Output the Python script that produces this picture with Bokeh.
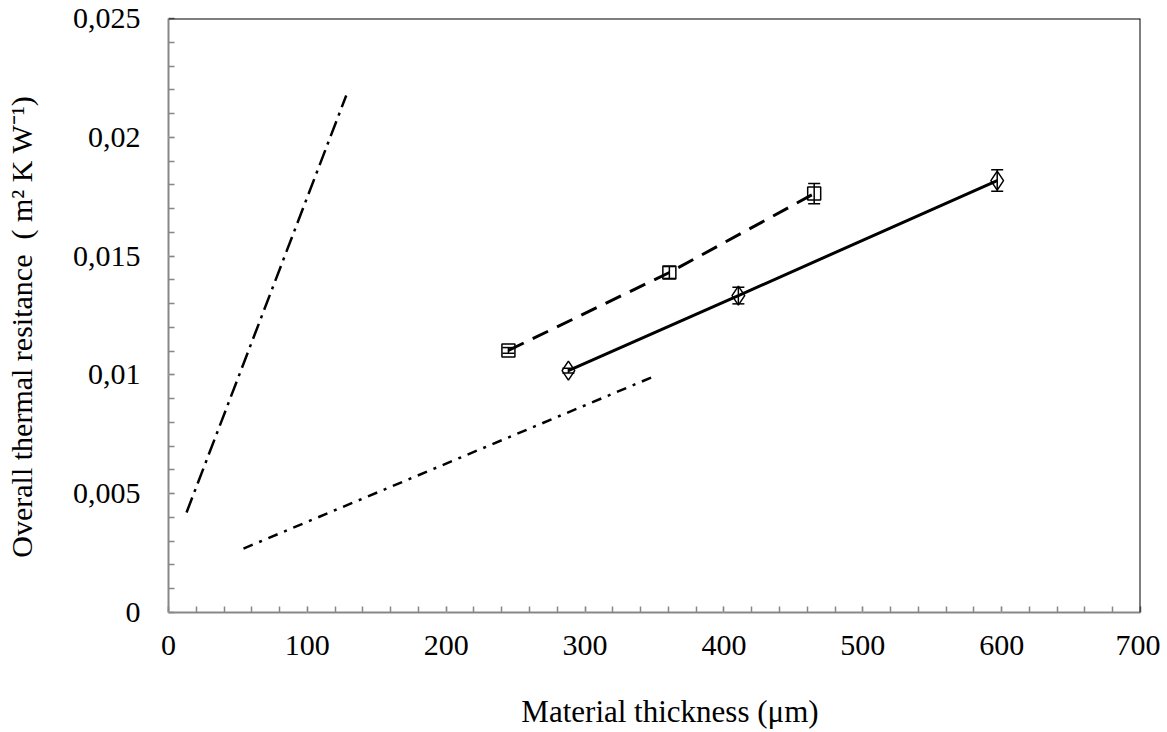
from bokeh.plotting import figure
from bokeh.models import (ColumnDataSource, Span, Whisker, TeeHead, CustomJSTickFormatter,
                          SingleIntervalTicker, Range1d)
from bokeh.embed import file_html
from bokeh.resources import INLINE

# Data
sq_x = [244.8, 360.7, 465.0]
sq_y = [0.01103, 0.01431, 0.01763]
sq_err = [0.00012, 0.00025, 0.00043]

dm_x = [288.0, 410.4, 596.8]
dm_y = [0.01018, 0.01334, 0.01818]
dm_err = [0.00010, 0.00035, 0.00045]

steep_x = [13.0, 128.0]
steep_y = [0.00421, 0.02176]

low_x = [54.0, 347.7]
low_y = [0.00269, 0.00989]

FONT = "Liberation Serif"
AXC = "#878787"
NB = "\u00a0"

p = figure(width=1160, height=732, output_backend="svg", toolbar_location=None,
           x_range=Range1d(0, 700), y_range=Range1d(0, 0.025),
           min_border_left=168, min_border_right=20, min_border_top=18, min_border_bottom=120)
p.outline_line_color = None
p.xgrid.visible = False
p.ygrid.visible = False
p.background_fill_color = "white"

for ax in (p.xaxis[0], p.yaxis[0]):
    ax.axis_line_color = AXC
    ax.axis_line_width = 2
    ax.major_tick_line_color = "#c4c4c4"
    ax.minor_tick_line_color = AXC
    ax.major_tick_in = 6
    ax.major_tick_out = 0
    ax.minor_tick_in = 6
    ax.minor_tick_out = 0
    ax.major_tick_line_width = 1.5
    ax.minor_tick_line_width = 1.5
    ax.major_label_text_font = FONT
    ax.major_label_text_font_size = "30px"
    ax.major_label_text_color = "black"
    ax.axis_label_text_font = FONT
    ax.axis_label_text_font_size = "30px"
    ax.axis_label_text_font_style = "normal"
    ax.axis_label_text_color = "black"

p.xaxis.axis_label_text_font_size = "31px"
p.xaxis.ticker = SingleIntervalTicker(interval=100, num_minor_ticks=5)
p.yaxis.ticker = SingleIntervalTicker(interval=0.005, num_minor_ticks=5)
p.yaxis.formatter = CustomJSTickFormatter(code="""
let s = tick.toFixed(3).replace(/0+$/, '').replace(/\\.$/, '');
return s.replace('.', ',');
""")
p.xaxis.major_label_standoff = 23
p.yaxis.major_label_standoff = 28
p.xaxis.axis_label = NB * 4 + "Material thickness (\u03bcm)"
p.yaxis.axis_label = "Overall thermal resitance" + NB * 2 + "(" + NB + "m\u00b2 K W\u207b\u00b9)" + NB * 3
p.xaxis.axis_label_standoff = 36
p.yaxis.axis_label_standoff = 32

# top and right border
p.add_layout(Span(location=0.025, dimension="width", line_color="black", line_width=2))
p.add_layout(Span(location=700, dimension="height", line_color="black", line_width=2))

# lines
p.line(steep_x, steep_y, line_color="black", line_width=2.5, line_dash="16 6 3 6")
p.line(low_x, low_y, line_color="black", line_width=2.5, line_dash="10 7 3 7")
p.line(sq_x, sq_y, line_color="black", line_width=3, line_dash="17 10")
p.line(dm_x, dm_y, line_color="black", line_width=3)

# error bars
for xs, ys, es in ((sq_x, sq_y, sq_err), (dm_x, dm_y, dm_err)):
    src = ColumnDataSource(dict(x=xs, lo=[y - e for y, e in zip(ys, es)],
                                hi=[y + e for y, e in zip(ys, es)]))
    w = Whisker(source=src, base="x", lower="lo", upper="hi", line_color="black", line_width=1.5,
                upper_head=TeeHead(size=12, line_color="black", line_width=1.5),
                lower_head=TeeHead(size=12, line_color="black", line_width=1.5))
    p.add_layout(w)

p.scatter(sq_x, sq_y, marker="square", size=13, fill_color=None, line_color="black", line_width=1.5)
p.scatter(dm_x, dm_y, marker="diamond", size=19, fill_color=None, line_color="black", line_width=1.5)

open("out.html", "w").write(file_html(p, INLINE))
